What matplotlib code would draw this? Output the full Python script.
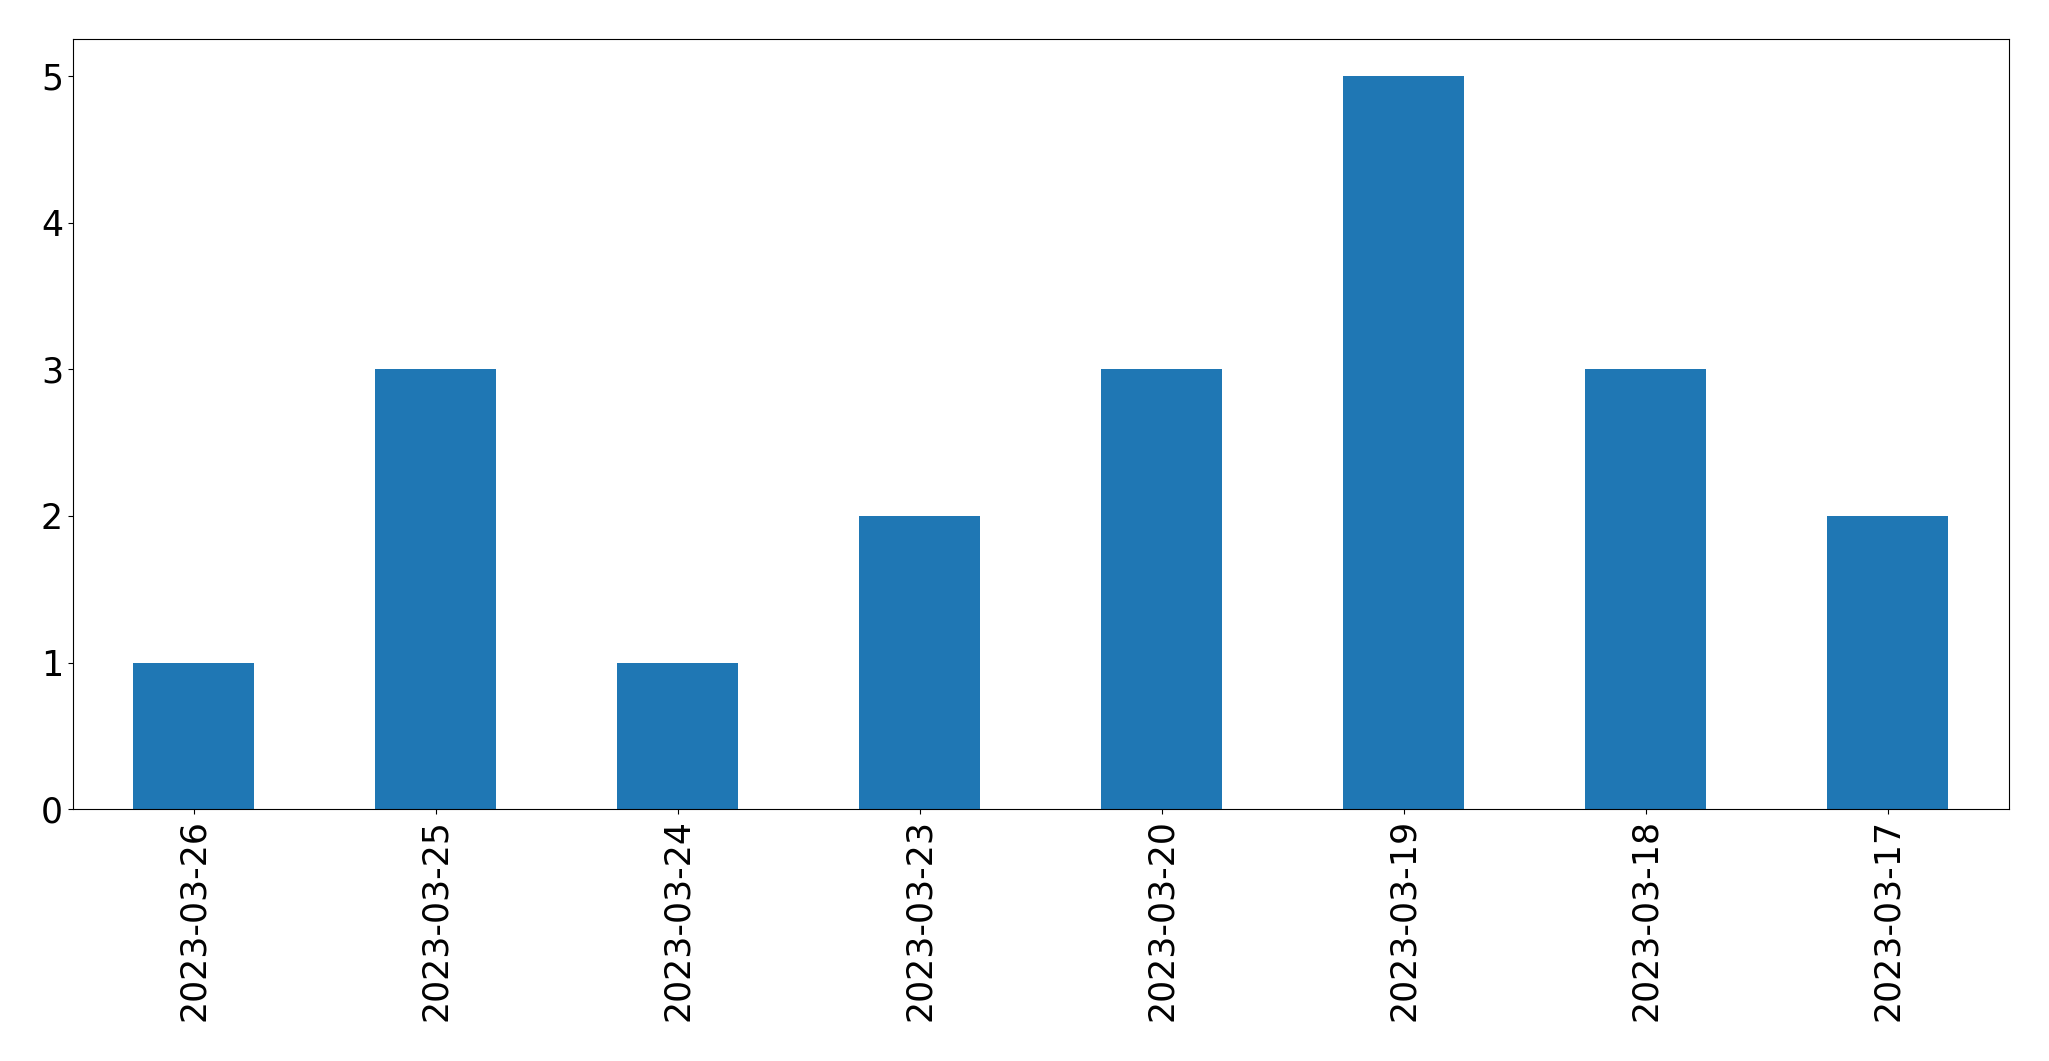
import numpy as np
import pandas as pd
import matplotlib
matplotlib.use('Agg')
import matplotlib.pyplot as plt

dates = ['2023-03-26', '2023-03-25', '2023-03-24', '2023-03-23',
         '2023-03-20', '2023-03-19', '2023-03-18', '2023-03-17']
counts = [1, 3, 1, 2, 3, 5, 3, 2]

countSeries = pd.Series(counts, index=dates)

fig, ax = plt.subplots(figsize=(20.49, 10.61), dpi=100)
fig.subplots_adjust(left=72.7 / 2049, right=2008.7 / 2049,
                    top=1 - 39.3 / 1061, bottom=1 - 809.3 / 1061)

# bar chart of counts per day
countSeries.plot(kind='bar', ax=ax, color='#1f77b4')

ax.tick_params(axis='both', labelsize=25)
ax.set_yticks([0, 1, 2, 3, 4, 5])

fig.savefig('out.png', dpi=100)
